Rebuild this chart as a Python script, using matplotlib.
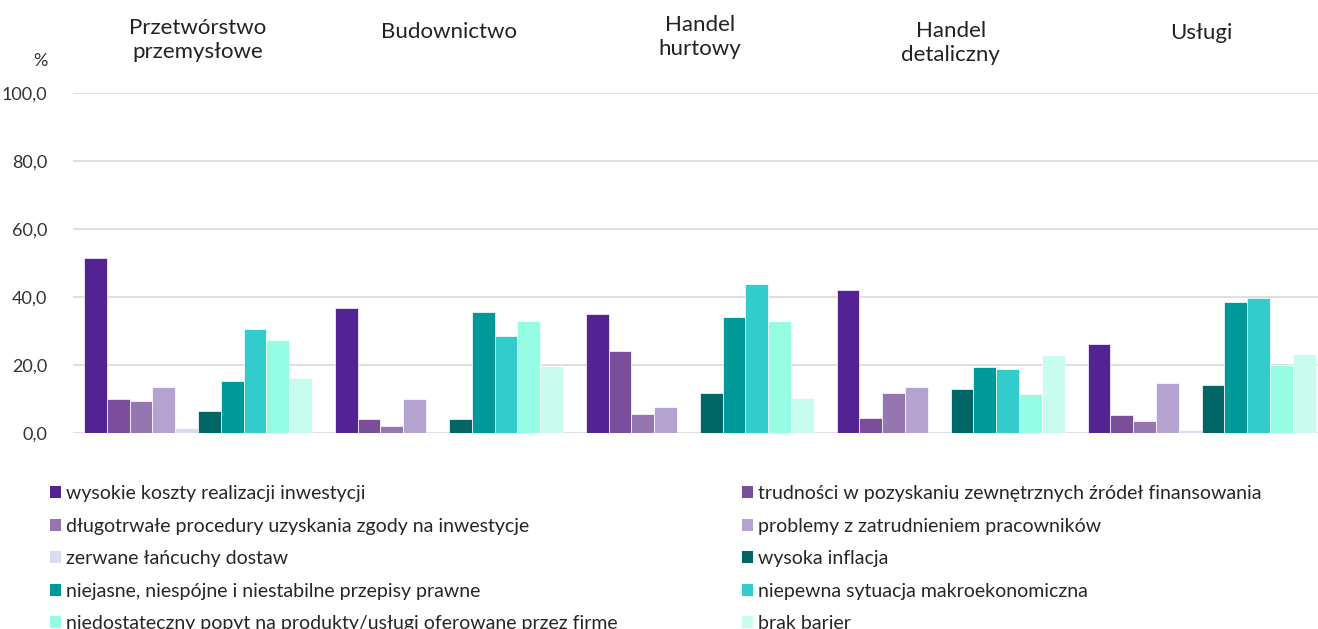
import matplotlib

matplotlib.use("Agg")
import matplotlib.pyplot as plt
import numpy as np
from matplotlib.patches import Patch

plt.rcParams["font.family"] = ["Lato", "DejaVu Sans"]

sectors = [
    "Przetwórstwo\nprzemysłowe",
    "Budownictwo",
    "Handel\nhurtowy",
    "Handel\ndetaliczny",
    "Usługi",
]

barriers = [
    "wysokie koszty realizacji inwestycji",
    "trudności w pozyskaniu zewnętrznych źródeł finansowania",
    "długotrwałe procedury uzyskania zgody na inwestycje",
    "problemy z zatrudnieniem pracowników",
    "zerwane łańcuchy dostaw",
    "wysoka inflacja",
    "niejasne, niespójne i niestabilne przepisy prawne",
    "niepewna sytuacja makroekonomiczna",
    "niedostateczny popyt na produkty/usługi oferowane przez firmę",
    "brak barier",
]

# one list per barrier, values for the 5 sectors (%)
wysokie_koszty = [51.4, 36.8, 35.1, 42.0, 26.1]
trudnosci_finansowanie = [9.9, 4.2, 24.2, 4.5, 5.2]
dlugotrwale_procedury = [9.5, 2.2, 5.5, 11.8, 3.6]
problemy_zatrudnienie = [13.4, 10.1, 7.6, 13.4, 14.8]
zerwane_lancuchy = [1.4, 0.0, 0.0, 0.0, 0.9]
wysoka_inflacja = [6.4, 4.2, 11.8, 13.0, 14.1]
niejasne_przepisy = [15.3, 35.6, 34.2, 19.5, 38.5]
niepewna_sytuacja = [30.5, 28.6, 43.9, 18.7, 39.8]
niedostateczny_popyt = [27.4, 32.8, 33.0, 11.4, 19.9]
brak_barier = [16.2, 19.6, 10.3, 22.9, 23.1]

series = [
    wysokie_koszty, trudnosci_finansowanie, dlugotrwale_procedury,
    problemy_zatrudnienie, zerwane_lancuchy, wysoka_inflacja,
    niejasne_przepisy, niepewna_sytuacja, niedostateczny_popyt, brak_barier,
]

colors = [
    "#532394", "#7A4E9B", "#9576B1", "#B4A3CF", "#D9DBEF",
    "#016666", "#009999", "#33CCCC", "#94FDE3", "#C8FCEE",
]

yticks = [0, 20, 40, 60, 80, 100]

W, H = 1318, 629
fig = plt.figure(figsize=(W / 100, H / 100), dpi=100)
ax = fig.add_axes([72.6 / W, 196 / H, (1327 - 72.6) / W, 340 / H])

n = len(series)
width = 1 / (n + 1)
x = np.arange(len(sectors))
for i, (vals, col) in enumerate(zip(series, colors)):
    ax.bar(x + (i - (n - 1) / 2) * width, vals, width, color=col,
           edgecolor="white", linewidth=0.5, zorder=3)

ax.set_xlim(-0.5, len(sectors) - 0.5)
ax.set_ylim(0, 100)
ax.set_yticks(yticks)
ax.set_yticklabels([f"{v:.1f}".replace(".", ",") for v in yticks],
                   fontsize=13, color="#333333")
ax.tick_params(axis="y", length=0, pad=18)
ax.set_xticks([])
ax.grid(axis="y", color="#D9D9D9", linewidth=1.2, zorder=0)
for s in ax.spines.values():
    s.set_visible(False)

# sector names above the groups
label_top = [18, 22, 15, 21, 23]
for xi, name, top in zip(x, sectors, label_top):
    xf = ax.transData.transform((xi, 0))[0] / W
    fig.text(xf, 1 - top / H, name, ha="center", va="top",
             fontsize=16, color="#222222", linespacing=1.28)

fig.text(40 / W, 1 - 61 / H, "%", ha="center", va="center",
         fontsize=13, color="#333333")

# legend laid out row-wise in two columns
handles = [Patch(facecolor=c, edgecolor="none") for c in colors]
for col, x0 in enumerate([50, 742]):
    idx = list(range(col, n, 2))
    leg = fig.legend([handles[i] for i in idx], [barriers[i] for i in idx],
                     loc="upper left", bbox_to_anchor=(x0 / W, 1 - 485 / H),
                     frameon=False, fontsize=14, handlelength=0.55,
                     handleheight=0.55, handletextpad=0.25, labelspacing=0.8,
                     borderaxespad=0, borderpad=0)
    for t in leg.get_texts():
        t.set_color("#262626")

fig.savefig("out.png", dpi=100)
